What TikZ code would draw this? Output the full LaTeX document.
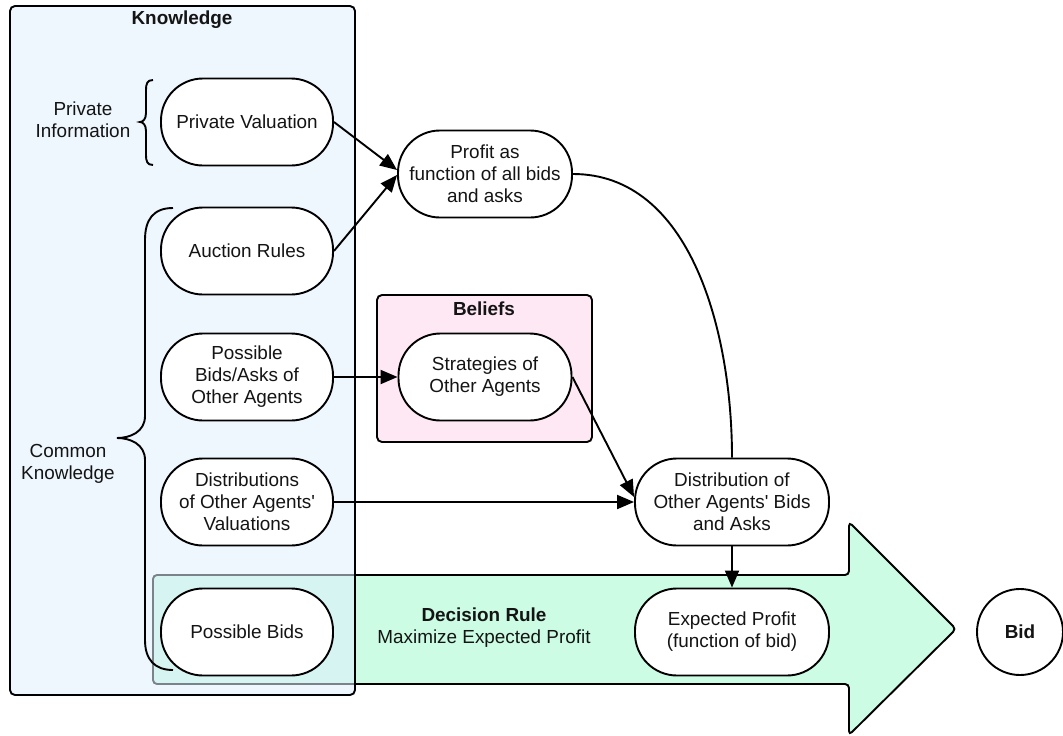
\documentclass[tikz,border=0pt]{standalone}
\usepackage{fontspec}
\newfontfamily\lsans{Liberation Sans}
\usetikzlibrary{arrows.meta}
\definecolor{knowfill}{RGB}{224,239,253}
\definecolor{belfill}{RGB}{253,232,244}
\definecolor{arrfill}{RGB}{204,252,228}
\definecolor{txt}{RGB}{20,20,20}
\tikzset{
  txtfont/.style={font=\lsans\fontsize{18.9}{22}\selectfont, text=txt},
  pill/.style={draw, fill=white, rounded corners=42pt, minimum height=87pt, align=center, inner sep=2pt, txtfont},
  lbl/.style={align=center, inner sep=0pt, txtfont},
  arr/.style={-{Triangle[length=17pt,width=14pt]}},
  panel/.style={draw, rounded corners=5pt},
}
\begin{document}
\begin{tikzpicture}[x=1pt,y=-1pt,line width=1.9pt]
\useasboundingbox (0,0) rectangle (1063,736);
% big decision arrow (behind)
\draw[fill=arrfill, rounded corners=4pt] (153,575) -- (849,575) -- (849,522) -- (956,629) -- (849,735) -- (849,684) -- (153,684) -- cycle;
% knowledge panel
\draw[panel, fill=knowfill, fill opacity=0.55] (10,6) rectangle (355,695);
\node[lbl, font=\lsans\bfseries\fontsize{18.9}{22}\selectfont] (ktitle) at (182,20) {Knowledge};
% beliefs panel
\draw[panel, fill=belfill] (377,295) rectangle (592,442);
\node[lbl, font=\lsans\bfseries\fontsize{18.9}{22}\selectfont] (btitle) at (484,309) {Beliefs};
% braces
\draw (153,80) .. controls (147,80) and (146,84) .. (146,90) -- (146,113) .. controls (146,119) and (143,122) .. (140,122) .. controls (143,122) and (146,125) .. (146,131) -- (146,155) .. controls (146,161) and (147,165) .. (153,165);
\draw (173,208) .. controls (153,208) and (145,220) .. (145,240) -- (145,416) .. controls (145,432) and (130,438) .. (117,438) .. controls (130,438) and (145,444) .. (145,460) -- (145,640) .. controls (145,660) and (155,670) .. (173,670);
\node[lbl] (privinfo) at (83,120) {Private\\Information};
\node[lbl] (commk) at (68,464) {Common\\Knowledge};
% knowledge nodes
\node[pill, minimum width=172pt] (pv) at (247,122) {Private Valuation};
\node[pill, minimum width=172pt] (ar) at (247,251) {Auction Rules};
\node[pill, minimum width=172pt] (pba) at (247,377) {Possible\\Bids/Asks of\\Other Agents};
\node[pill, minimum width=172pt] (dov) at (247,502) {Distributions\\of Other Agents'\\Valuations};
\node[pill, minimum width=172pt] (pb) at (247,632) {Possible Bids};
% other nodes
\node[pill, minimum width=174pt] (prof) at (485,174) {Profit as\\function of all bids\\and asks};
\node[pill, minimum width=173pt] (strat) at (485,377) {Strategies of\\Other Agents};
\node[pill, minimum width=194pt] (dist) at (732,502) {Distribution of\\Other Agents' Bids\\and Asks};
\node[pill, minimum width=194pt] (ep) at (732,632) {Expected Profit\\(function of bid)};
\node[lbl] (dr) at (484,628) {\textbf{Decision Rule}\\Maximize Expected Profit};
\node[draw, circle, fill=white, minimum size=86pt, inner sep=0pt, txtfont, font=\lsans\bfseries\fontsize{18.9}{22}\selectfont] (bid) at (1020,632) {Bid};
% connectors
\draw[arr] (pv.east) -- ([yshift=4pt]prof.west);
\draw[arr] (ar.east) -- ([yshift=-1pt]prof.west);
\draw[arr] (pba.east) -- (strat.west);
\draw[arr] (strat.east) -- ([yshift=5pt]dist.west);
\draw[arr] (dov.east) -- (dist.west);
\draw (prof.east) .. controls (690,174) and (732,330) .. (dist.north);
\draw[arr] (dist.south) -- (ep.north);
\end{tikzpicture}
\end{document}
